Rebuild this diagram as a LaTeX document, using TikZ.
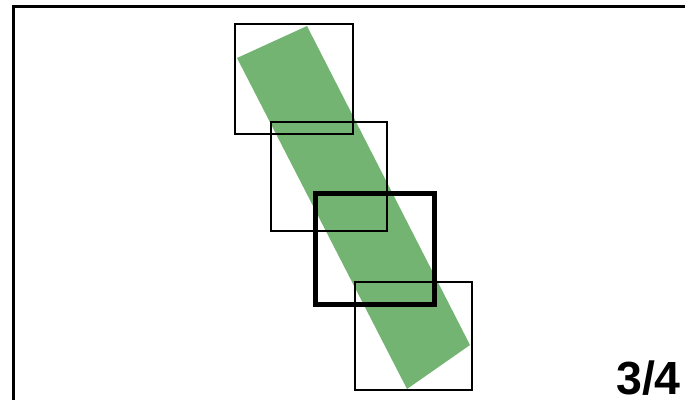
\documentclass[tikz,border=0pt]{standalone}
\usepackage{fontspec}
\setsansfont{Liberation Sans}
\usetikzlibrary{positioning}
\definecolor{barfill}{RGB}{115,180,115}

\begin{document}
\begin{tikzpicture}[
  x=1pt, y=-1pt,
  outer/.style={draw=black, line width=3pt},
  tile/.style={draw=black, line width=2pt},
  focus/.style={draw=black, line width=5.5pt},
  bar/.style={fill=barfill, draw=none},
  countlbl/.style={font=\fontsize{46.5}{50}\selectfont\sffamily\bfseries, inner sep=0pt, anchor=base west},
]
\useasboundingbox (0,0) rectangle (685,399);
\clip (0,0) rectangle (685,399);

% frame, running past the right and bottom edges
\draw[outer] (13.5,6.5) rectangle (700,420);

% the slanted strip
\fill[bar] (237,58) -- (307,26) -- (470,345) -- (407,389) -- cycle;

% window positions
\draw[tile] (235,24) rectangle (352.5,133.5);
\draw[tile] (270.5,122) rectangle (387,231);
\draw[tile] (355,281.5) rectangle (471.5,390);
\draw[focus] (315.5,193.5) rectangle (434.5,304.5);

\node[countlbl] (count) at (616,394.5) {3/4};

\end{tikzpicture}
\end{document}
